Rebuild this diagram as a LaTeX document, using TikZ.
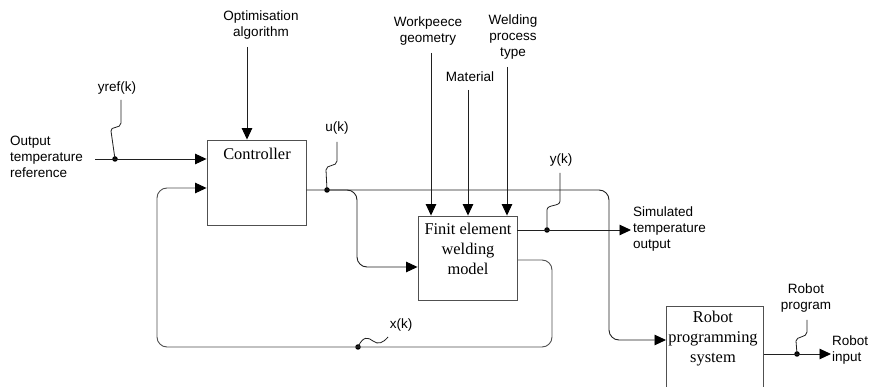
\documentclass[tikz,border=0pt]{standalone}
\usepackage{fontspec}
\setmainfont{Liberation Serif}
\newfontfamily\lbl{Liberation Sans}
\usetikzlibrary{arrows.meta}
\definecolor{ln}{HTML}{202020}
\definecolor{gl}{HTML}{505050}
\tikzset{
  box/.style={draw=gl, line width=0.9pt, rectangle, inner sep=0pt},
  boxtxt/.style={font=\fontsize{16.4}{20}\selectfont, align=center, inner sep=0pt},
  lab/.style={font=\lbl\fontsize{13.5}{15.7}\selectfont, align=center, inner sep=0pt},
  labl/.style={font=\lbl\fontsize{13.5}{15.7}\selectfont, align=left, inner sep=0pt, anchor=west},
  wire/.style={draw=ln, line width=0.9pt},
  gwire/.style={draw=gl, line width=0.9pt},
  arr/.style={-{Triangle[length=11.5pt,width=10.5pt,color=black]}},
  dotn/.style={circle, fill=black, inner sep=0pt, minimum size=5.5pt},
  squig/.style={draw=ln, line width=0.8pt}
}
\begin{document}
\begin{tikzpicture}[x=1pt,y=-1pt]
\useasboundingbox (0,0) rectangle (873,387);
\clip (0,0) rectangle (873,387);
\fill[white] (0,0) rectangle (873,387);
% boxes
\node[box, minimum width=99pt, minimum height=85pt] (ctrl) at (256.5,182.5) {};
\node[boxtxt] (ctrlt) at (257,154) {Controller};
\node[box, minimum width=99pt, minimum height=84pt] (fem) at (467.5,258) {};
\node[boxtxt] (femt) at (468,249) {Finit element\\welding\\model};
\node[box, minimum width=97pt, minimum height=110pt, anchor=north west] (robot) at (666,306) {};
\node[boxtxt] (robott) at (713,339) {Robot\\programming\\system};
% labels
\node[lab] (optl) at (261,25) {Optimisation\\algorithm};
\node[lab] (wpl) at (428,31) {Workpeece\\geometry};
\node[lab] (matl) at (470,77) {Material};
\node[lab] (wpt) at (513,37) {Welding\\process\\type};
\node[labl] (outl) at (10,157) {Output\\temperature\\reference};
\node[lab] (yrefl) at (117,88) {yref(k)};
\node[lab] (ukl) at (337,128) {u(k)};
\node[lab] (ykl) at (561,160) {y(k)};
\node[lab] (xkl) at (401,325) {x(k)};
\node[labl] (siml) at (633,229) {Simulated\\temperature\\output};
\node[lab] (rpl) at (806,298) {Robot\\program};
\node[labl] (ril) at (832,350) {Robot\\input};
% coordinates
\coordinate (optin) at (247,47);
\coordinate (wpin) at (431,53);
\coordinate (matin) at (468,90);
\coordinate (wptin) at (507,67);
\coordinate (yin) at (95,159);
\coordinate (simout) at (631,230);
\coordinate (rout) at (831,354);
% dots
\node[dotn] (dy) at (115,159) {};
\node[dotn] (du) at (327,190) {};
\node[dotn] (dyk) at (547,230) {};
\node[dotn] (dx) at (358,347) {};
\node[dotn] (dr) at (797,354) {};
% input arrows
\draw[wire,arr] (optin) -- (optin |- ctrl.north);
\draw[wire,arr] (wpin) -- (wpin |- fem.north);
\draw[wire,arr] (matin) -- (matin |- fem.north);
\draw[wire,arr] (wptin) -- (wptin |- fem.north);
\draw[wire,arr] (yin) -- (ctrl.west |- yin);
% controller output to robot
\draw[wire,arr,rounded corners=10pt] (ctrl.east |- du) -- (609,190) -- (609,340) -- (robot.west |- 0,340);
% branch to FEM
\draw[wire,arr,rounded corners=10pt] (du.center) -- (357,190) -- (357,267) -- (fem.west |- 0,267);
% FEM output
\draw[wire,arr] (fem.east |- dyk) -- (simout);
% feedback loop
\draw[gwire,arr,rounded corners=10pt] (fem.east |- 0,260) -- (552,260) -- (552,347) -- (157,347) -- (157,188) -- (ctrl.west |- 0,188);
% robot output
\draw[wire,arr] (robot.east |- dr) -- (rout);
% squiggles
\draw[squig] (dy.center) -- (111,131) .. controls (110,126) and (121,129) .. (121,123) -- (121,100);
\draw[squig] (du.center) -- (326,170) .. controls (326,164) and (337,167) .. (337,161) -- (337,142);
\draw[squig] (dyk.center) -- (547,210) .. controls (547,204) and (560,207) .. (560,201) -- (560,173);
\draw[squig] (dr.center) -- (796,341) .. controls (796,336) and (807,338) .. (807,332) -- (807,320);
\draw[squig] (dx.center) .. controls (363,336) and (368,337) .. (373,341) .. controls (378,345) and (383,343) .. (388,337);
\end{tikzpicture}
\end{document}
